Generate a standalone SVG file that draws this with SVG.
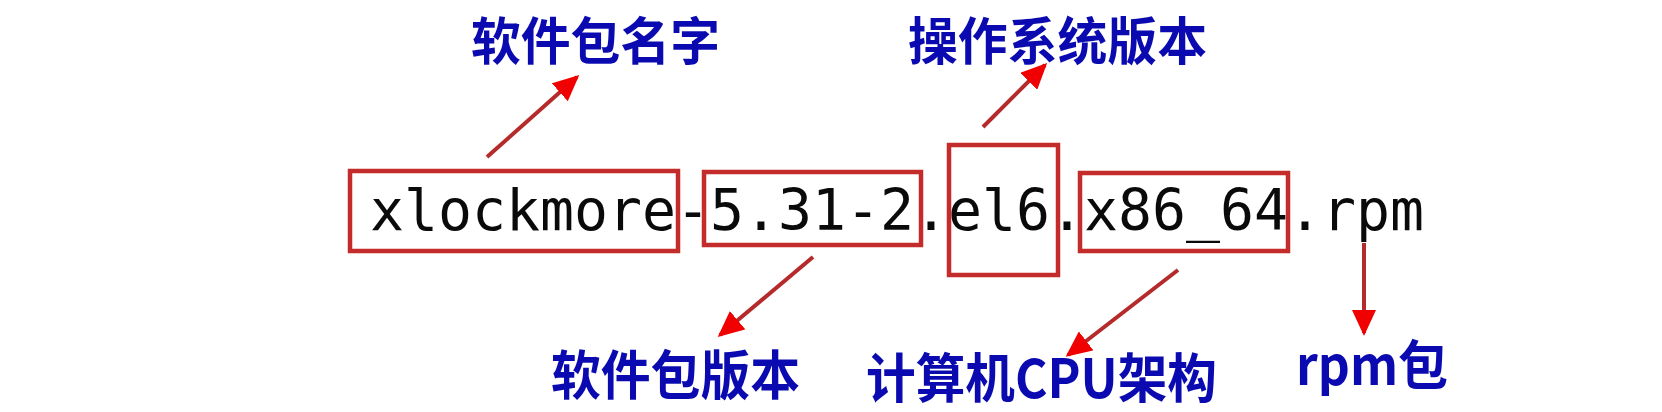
<svg xmlns="http://www.w3.org/2000/svg" width="1662" height="412" viewBox="0 0 1662 412">
<style>
.fn{font-family:"DejaVu Sans Mono","Liberation Mono",monospace;font-size:56.5px;fill:#0a0a0a}
.box{fill:none;stroke:#c42b2b;stroke-width:4.5}
.lbl{font-family:"Noto Sans CJK SC","Noto Sans",sans-serif;font-weight:bold;font-size:48.5px;fill:#0a0ab0}
.arr{fill:none;stroke:#b52a2a;stroke-width:4;marker-end:url(#ah)}
</style>
<defs>
<marker id="ah" markerUnits="userSpaceOnUse" markerWidth="26" markerHeight="24" refX="23" refY="12" orient="auto">
<path d="M0,0 L26,12 L0,24 Z" fill="#f00000"/>
</marker>
</defs>
<rect width="1662" height="412" fill="#ffffff"/>
<g id="filename">
<text class="fn" x="370" y="230" textLength="1054" lengthAdjust="spacing">xlockmore-5.31-2.el6.x86_64.rpm</text>
</g>
<g id="box-name"><rect class="box" x="350" y="171" width="328" height="80"/></g>
<g id="box-version"><rect class="box" x="704" y="172" width="217" height="73"/></g>
<g id="box-os"><rect class="box" x="949" y="145" width="109" height="130"/></g>
<g id="box-arch"><rect class="box" x="1080" y="173" width="208" height="78"/></g>
<g id="label-name"><text class="lbl" transform="translate(471,59.5) scale(1,1.05)" textLength="249" lengthAdjust="spacingAndGlyphs">软件包名字</text></g>
<g id="label-os"><text class="lbl" transform="translate(908,59.5) scale(1,1.05)" textLength="299" lengthAdjust="spacingAndGlyphs">操作系统版本</text></g>
<g id="label-version"><text class="lbl" transform="translate(551,395) scale(1,1.1)" textLength="249" lengthAdjust="spacingAndGlyphs">软件包版本</text></g>
<g id="label-arch"><text class="lbl" transform="translate(866,398) scale(1,1.1)" textLength="351" lengthAdjust="spacingAndGlyphs">计算机CPU架构</text></g>
<g id="label-rpm"><text class="lbl" transform="translate(1296,385) scale(1,1.1)" textLength="152" lengthAdjust="spacingAndGlyphs">rpm包</text></g>
<g id="connectors">
<line class="arr" x1="487" y1="157" x2="577" y2="77"/>
<line class="arr" x1="983" y1="127" x2="1045" y2="65"/>
<line class="arr" x1="813" y1="257" x2="720" y2="335"/>
<line class="arr" x1="1178" y1="270" x2="1068" y2="355"/>
<line class="arr" x1="1364" y1="243" x2="1364" y2="333"/>
</g>
</svg>
